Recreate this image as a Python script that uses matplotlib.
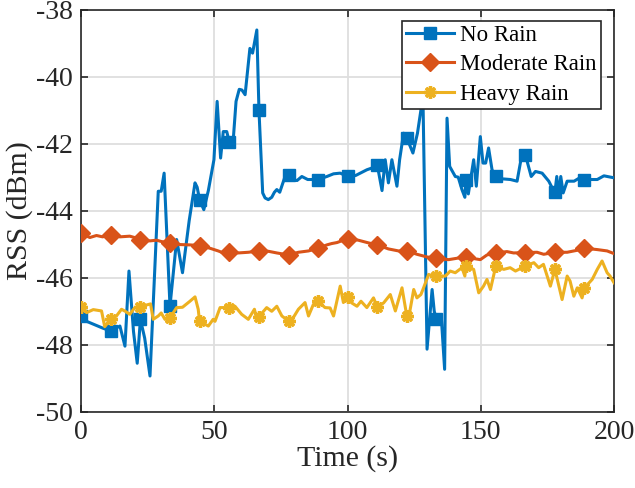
import numpy as np
import matplotlib
matplotlib.use("Agg")
import matplotlib.pyplot as plt

# ---------------- data ----------------
t_no = [0, 2, 5, 8, 11.1, 14.5, 16.4, 17.9, 19.6, 21.0, 22.2, 23.8, 25.8, 28.9, 30.0, 31.1,
        33.3, 35.8, 38.0, 40.5, 42.7, 43.5, 44.4, 46.0, 47.7, 49.8, 51.0, 52.3, 53.3, 54.6,
        55.6, 57.1, 58.1, 59.3, 60.3, 61.5, 63.3, 64.3, 65.9, 66.7, 68.1, 69.0, 70.2, 71.5,
        72.5, 73.4, 74.5, 76.5, 77.8, 79.0, 81.0, 82.8, 85.0, 88.9, 92.2, 94.7, 97.2, 100,
        103, 107.2, 109, 111.1, 112.9, 114.1, 115.3, 116.6, 118.5, 119.5, 121, 122.2, 124.5,
        126.2, 127.5, 128.3, 129.8, 131.7, 132.5, 133.3, 135.2, 136.4, 137.3, 138.3, 140.4,
        141.5, 142.9, 144.0, 144.4, 145.3, 147.3, 148.3, 149.8, 150.8, 151.8, 152.9, 154.2,
        155.6, 158, 161.1, 163.6, 165.5, 166.7, 168.9, 170.5, 173, 175.5, 177.1, 177.8,
        178.5, 179.2, 180, 180.9, 182.4, 185, 187.5, 188.9, 193.7, 196.2, 200]
v_no = [-47.14, -47.3, -47.4, -47.5, -47.59, -47.44, -48.04, -45.8, -47.6, -48.55, -47.24,
        -47.8, -48.93, -43.42, -43.42, -42.88, -46.85, -44.86, -45.85, -44.3, -43.17, -43.3,
        -43.67, -43.97, -43.4, -42.48, -40.74, -42.43, -41.64, -41.64, -41.96, -41.83, -40.74,
        -40.38, -40.4, -40.54, -39.16, -39.3, -38.61, -41.0, -43.47, -43.62, -43.67, -43.6,
        -43.45, -43.37, -43.45, -42.98, -42.93, -43.07, -43.1, -42.98, -43.07, -43.07, -42.98,
        -42.9, -42.88, -42.98, -42.95, -42.78, -42.73, -42.63, -43.4, -42.48, -43.17, -42.48,
        -43.27, -42.48, -41.69, -41.83, -42.28, -41.69, -41.0, -40.8, -48.13, -46.35, -47.0,
        -47.24, -47.24, -48.73, -41.24, -42.68, -42.98, -43.0, -43.37, -43.6, -43.07, -43.5,
        -42.48, -43.27, -41.79, -42.58, -42.58, -42.13, -42.78, -42.96, -43.05, -43.07, -43.12,
        -42.28, -42.33, -42.98, -42.83, -42.88, -43.12, -43.37, -43.45, -42.98, -43.57, -42.98,
        -43.47, -43.12, -43.12, -43.0, -43.07, -43.07, -42.96, -43.02]

t_mod = [0, 3.2, 5.7, 8, 11.1, 14.5, 18.2, 20, 22.2, 25.8, 28.3, 30.1, 33.3, 37, 40.8, 44.4,
         48.3, 51.4, 52.7, 55.6, 58.9, 62.7, 66.7, 70.2, 73.4, 77.8, 81.5, 85.3, 88.9, 92.2,
         94, 96, 97.7, 100, 104, 107.8, 111.1, 115.3, 119.1, 122.2, 126, 129.8, 133.3, 137.9,
         141.7, 144.4, 146, 149.8, 152.3, 155.6, 159.8, 162.3, 166.7, 171.1, 173.6, 177.8,
         182.4, 186.2, 188.9, 193.7, 197.4, 200]
v_mod = [-44.68, -44.8, -44.74, -44.78, -44.72, -44.78, -44.76, -44.8, -44.88, -44.9, -44.88,
         -44.92, -44.96, -45.01, -45.02, -45.04, -45.12, -45.2, -45.24, -45.22, -45.26, -45.24,
         -45.2, -45.21, -45.26, -45.32, -45.24, -45.2, -45.12, -45.02, -44.98, -44.95, -44.9,
         -44.83, -44.88, -44.96, -45.02, -45.14, -45.2, -45.2, -45.3, -45.38, -45.42, -45.46,
         -45.41, -45.38, -45.41, -45.46, -45.32, -45.26, -45.22, -45.26, -45.25, -45.24, -45.3,
         -45.24, -45.24, -45.18, -45.12, -45.16, -45.2, -45.28]

t_heavy = [0, 2, 4.5, 7.6, 8.8, 11.1, 13.2, 15.1, 16.5, 18.2, 20, 22.2, 25.1, 26, 27, 28.9, 30,
           31.4, 33.3, 35.8, 38, 40.8, 42.7, 43.9, 44.4, 47.7, 49.5, 50.2, 52.1, 55.6, 57.7,
           60.2, 62.7, 65, 65.9, 66.7, 69.6, 71.5, 73.4, 75.3, 77.8, 79.5, 81.5, 84, 85.3,
           87.1, 88.9, 91.5, 93.4, 94.7, 97.2, 98.4, 100, 101.5, 103.5, 105, 107.2, 109.7,
           111.1, 113.5, 116, 117.9, 120.4, 122.2, 122.8, 124.8, 126, 127.5, 128.5, 130.4,
           132, 133.3, 136.7, 138.5, 140.4, 142.9, 144.0, 144.4, 147.3, 149.2, 151, 152.3,
           153.6, 155.6, 158.6, 161, 163, 165.5, 166.7, 169.9, 171.7, 173.5, 176.1, 177.8,
           180.5, 182.4, 183.5, 184.9, 186.2, 188, 188.9, 191.8, 193.7, 195.5, 197.4, 198.5, 200]
v_heavy = [-46.86, -47.04, -46.95, -46.99, -47.46, -47.22, -47.14, -46.94, -47.0, -47.09, -46.9,
           -46.86, -46.8, -46.78, -47.24, -47.14, -47.05, -47.24, -47.19, -46.89, -46.88, -46.7,
           -46.57, -46.94, -47.3, -47.44, -47.24, -47.3, -46.89, -46.89, -46.85, -47.09, -47.24,
           -46.94, -47.24, -47.16, -46.89, -47.0, -46.85, -47.14, -47.29, -47.2, -46.94, -46.74,
           -47.14, -46.8, -46.7, -46.89, -46.9, -47.14, -46.25, -46.74, -46.57, -46.75, -46.85,
           -46.7, -46.89, -46.6, -46.87, -46.75, -46.5, -46.99, -46.3, -47.14, -47.24, -46.35,
           -46.6, -46.5, -46.3, -45.9, -45.95, -45.95, -45.95, -45.8, -45.85, -45.7, -45.95,
           -45.65, -45.75, -46.45, -46.25, -46.05, -46.35, -45.65, -45.75, -45.7, -45.8, -45.7,
           -45.65, -45.55, -45.7, -45.6, -46.25, -45.75, -46.65, -45.95, -46.1, -46.55, -46.3,
           -46.6, -46.3, -46.05, -45.75, -45.5, -45.85, -45.95, -46.15]

marker_times = [0, 11.1, 22.2, 33.3, 44.4, 55.6, 66.7, 77.8, 88.9, 100, 111.1, 122.2,
                133.3, 144.4, 155.6, 166.7, 177.8, 188.9]

series_labels = ["No Rain", "Moderate Rain", "Heavy Rain"]
x_ticks = [0, 50, 100, 150, 200]
y_ticks = [-50, -48, -46, -44, -42, -40, -38]

# ---------------- style ----------------
plt.rcParams['font.family'] = ['Liberation Serif', 'DejaVu Serif']

fig = plt.figure(figsize=(6.35, 4.88), dpi=100)
ax = fig.add_axes([0.128, 0.156, 0.839, 0.8245])

def mk(t):
    return [i for i, x in enumerate(t) if x in marker_times]

c_blue, c_orange, c_yellow = '#0072BD', '#D95319', '#EDB120'
lw = 2.2
ax.plot(t_no, v_no, color=c_blue, lw=lw, marker='s', ms=8.5, markevery=mk(t_no),
        label=series_labels[0], zorder=3)
ax.plot(t_mod, v_mod, color=c_orange, lw=lw, marker='D', ms=9, markevery=mk(t_mod),
        label=series_labels[1], zorder=3)
ax.plot(t_heavy, v_heavy, color=c_yellow, lw=lw, marker=(8, 2, 0), ms=9, mew=2.4,
        markevery=mk(t_heavy), label=series_labels[2], zorder=3)

ax.set_xlim(0, 200)
ax.set_ylim(-50, -38)
ax.set_xticks(x_ticks)
ax.set_yticks(y_ticks)
ax.set_yticklabels([str(v) for v in y_ticks])
ax.grid(True, color='#dedede', lw=1.3)
ax.set_axisbelow(True)
ax.tick_params(direction='in', top=True, right=True, length=5, width=1.2,
               labelsize=20, colors='#262626', pad=6)
for s in ax.spines.values():
    s.set_color('#262626')
    s.set_linewidth(1.2)
ax.set_xlabel('Time (s)', fontsize=21.5, color='#262626', labelpad=0)
ax.set_ylabel('RSS (dBm)', fontsize=21.5, color='#262626', labelpad=2)

leg = ax.legend(loc='upper right', bbox_to_anchor=(0.975, 0.972), borderaxespad=0,
                fontsize=16.5, fancybox=False, framealpha=1, edgecolor='#262626',
                handlelength=2.1, handletextpad=0.25, borderpad=0.18, labelspacing=0.36)
leg.get_frame().set_linewidth(1.2)

fig.savefig('out.png', dpi=100)
